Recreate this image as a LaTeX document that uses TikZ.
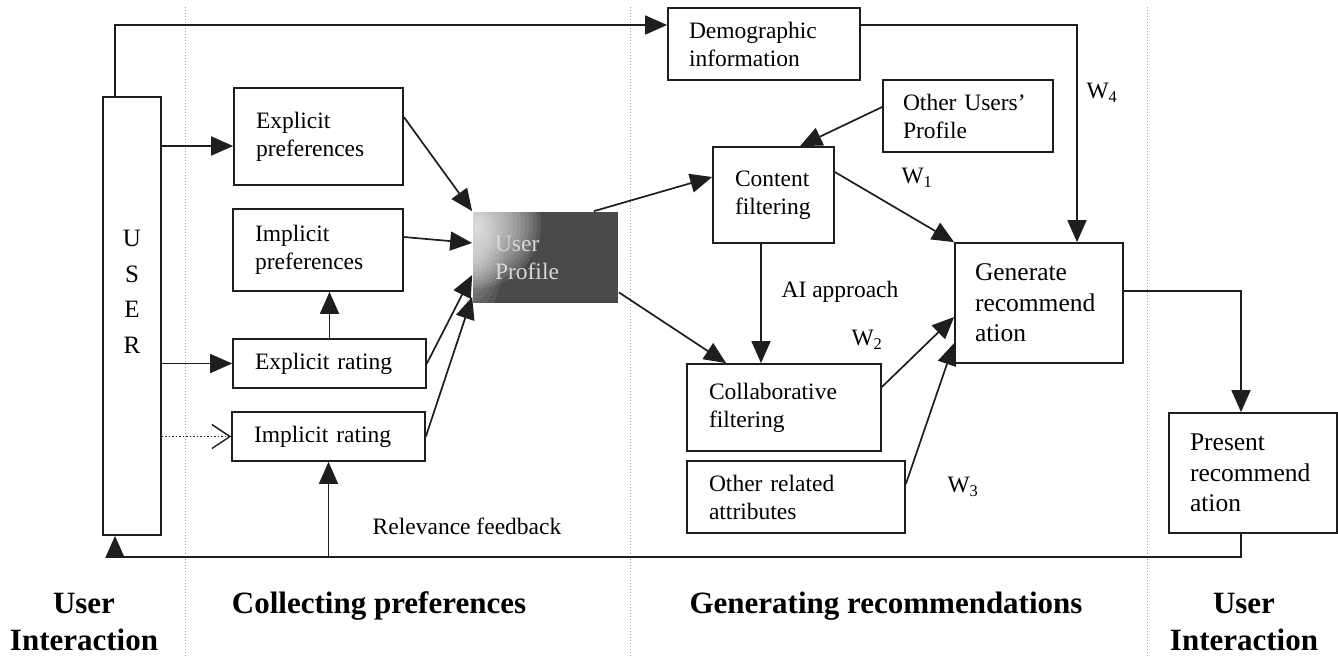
\documentclass[tikz,border=0pt]{standalone}
\usepackage{fontspec}
\setmainfont{Liberation Serif}
\usetikzlibrary{arrows.meta}
\definecolor{ink}{HTML}{1E1E1E}
\definecolor{profgray}{HTML}{4A4A4A}
\definecolor{proftext}{HTML}{D8D8D8}
\begin{document}
\begin{tikzpicture}[x=1pt,y=-1pt,
  frame/.style={draw=ink, line width=1.7pt, inner sep=0pt},
  box/.style={frame, align=left, inner xsep=22pt, inner ysep=0pt,
    font=\fontsize{23.5}{28}\selectfont},
  bigbox/.style={frame, align=left, inner xsep=20pt, inner ysep=0pt,
    font=\fontsize{25.5}{30.5}\selectfont},
  lbl/.style={font=\fontsize{23.5}{28}\selectfont, inner sep=0pt},
  phase/.style={font=\fontsize{31}{37}\selectfont\bfseries, align=center, inner sep=0pt},
  arr/.style={draw=ink, line width=1.7pt, -{Triangle[length=22pt,width=19pt]}},
  dotarr/.style={draw=ink, line width=1.2pt, dash pattern=on 1.5pt off 2pt,
    -{Straight Barb[length=18pt,width=24pt,line width=1.4pt]}},
  sep/.style={draw=gray!75, line width=0.9pt, dash pattern=on 1pt off 2pt}
]
\useasboundingbox (0,0) rectangle (1338,657);

% phase separators
\foreach \sx in {185,630,1147} \draw[sep] (\sx,7) -- (\sx,657);

% user column
\node[frame, minimum width=58pt, minimum height=438pt] (user) at (132,316) {};
\node[font=\fontsize{25}{35.5}\selectfont, align=center, inner sep=0pt] (usertxt) at (132,292) {U\\S\\E\\R};

% collecting preferences
\node[box, minimum width=169pt, minimum height=97pt, text width=125pt] (expp) at (318.5,136.5) {Explicit\\preferences};
\node[box, minimum width=170pt, minimum height=82pt, text width=126pt] (impp) at (318,250) {Implicit\\preferences};
\node[box, minimum width=193pt, minimum height=49pt, text width=149pt] (exr) at (329.5,363.5) {Explicit rating};
\node[box, minimum width=193pt, minimum height=49pt, text width=149pt] (imr) at (328.5,436.5) {Implicit rating};
% dark profile block with a soft light patch in its upper left corner
\node[frame, draw=none, fill=profgray, minimum width=145pt, minimum height=91pt, text width=101pt,
  inner xsep=22pt, align=left, text=proftext, font=\fontsize{23.5}{28}\selectfont,
  path picture={
    \foreach \r in {64,60,...,4}
      \fill[white, opacity=0.09]
        ([xshift=4pt,yshift=-12pt]path picture bounding box.north west) circle (\r pt);
    \foreach \r in {30,26,...,6}
      \fill[white, opacity=0.07]
        ([xshift=0pt,yshift=-50pt]path picture bounding box.north west) ellipse (\r pt and 1.8*\r pt);
  }]
  (prof) at (545.5,257.5) {User\\Profile};

% generating recommendations
\node[box, minimum width=192pt, minimum height=72pt, text width=150pt, inner xsep=20pt] (demo) at (764,44) {Demographic\\information};
\node[box, minimum width=121pt, minimum height=96pt, text width=77pt] (cf) at (773.5,195) {Content\\filtering};
\node[box, minimum width=170pt, minimum height=72pt, text width=130pt, inner xsep=20pt] (oup) at (968,116) {Other Users’\\Profile};
\node[bigbox, minimum width=168pt, minimum height=120pt, text width=128pt] (gen) at (1039,303) {Generate\\recommend\\ation};
\node[box, minimum width=194pt, minimum height=87pt, text width=150pt] (collab) at (784,407.5) {Collaborative\\filtering};
\node[box, minimum width=218pt, minimum height=72pt, text width=174pt] (oth) at (796,497) {Other related\\attributes};

% presenting
\node[bigbox, minimum width=168pt, minimum height=120pt, text width=126pt, inner xsep=21pt] (pres) at (1253,473) {Present\\recommend\\ation};

% routing points
\coordinate (ux) at (115,25);
\coordinate (w4) at (1077,25);
\coordinate (fb) at (1241,557);
\coordinate (cfx) at (761,0);
\coordinate (a1) at ([yshift=-9.5pt]expp.west);

% user to preferences
\draw[arr] (user.north -| ux) |- (demo.west |- ux);
\draw[arr] (user.east |- a1) -- (a1);
\draw[arr] (user.east |- exr.west) -- (exr.west);
\draw[dotarr] (user.east |- imr.west) -- (imr.west);

% preferences to profile
\draw[arr] ([yshift=19.5pt]expp.east) -- (prof.north west);
\draw[arr] ([yshift=13pt]impp.east) -- ([yshift=14.5pt]prof.west);
\draw[arr] (exr.east) -- ([yshift=-17.5pt]prof.west);
\draw[arr] (imr.east) -- ([yshift=-39.5pt]prof.west);
\draw[arr] (exr.north) -- (exr.north |- impp.south);

% profile to filtering
\draw[arr] ([xshift=-25pt]prof.north east) -- ([yshift=18pt]cf.west);
\draw[arr] ([yshift=11.5pt]prof.south east) -- ([xshift=40pt]collab.north west);
\draw[arr] (cf.south -| cfx) -- (collab.north -| cfx);
\draw[arr] ([yshift=9pt]oup.west) -- ([xshift=26.5pt]cf.north);

% combining into a recommendation
\draw[arr] ([yshift=23pt]cf.east) -- (gen.north west);
\draw[arr] ([yshift=20.5pt]collab.east) -- ([yshift=-14pt]gen.west);
\draw[arr] ([yshift=13pt]oth.east) -- ([yshift=-40pt]gen.west);
\draw[arr] (demo.east |- w4) -| (gen.north -| w4);
\draw[arr] ([yshift=12pt]gen.east) -| (pres.north -| fb);

% relevance feedback loop
\draw[arr] (pres.south -| fb) |- (fb -| ux) -- (user.south -| ux);
\draw[arr] (imr.south |- fb) -- (imr.south);

% connector labels
\node[lbl] (ai) at (840,292) {AI approach};
\node[lbl] (w1) at (917,178) {W\textsubscript{1}};
\node[lbl] (w2) at (867,340) {W\textsubscript{2}};
\node[lbl] (w3) at (963,487) {W\textsubscript{3}};
\node[lbl] (w4l) at (1102,93) {W\textsubscript{4}};
\node[lbl] (rel) at (467,526) {Relevance feedback};

% phase titles (base anchor sits on the last line)
\node[phase, anchor=base] (ph1) at (84,650) {User\\Interaction};
\node[phase, anchor=base] (ph2) at (379,613) {Collecting preferences};
\node[phase, anchor=base] (ph3) at (886,613) {Generating recommendations};
\node[phase, anchor=base] (ph4) at (1244,650) {User\\Interaction};
\end{tikzpicture}
\end{document}
